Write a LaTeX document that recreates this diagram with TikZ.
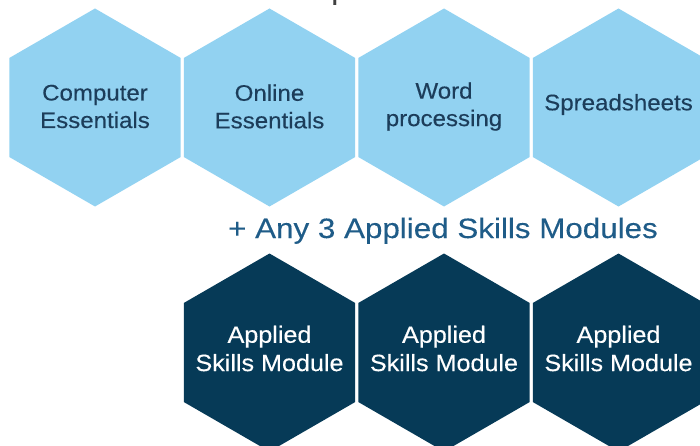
\documentclass[tikz,border=0pt]{standalone}
\usepackage{fontspec}
\setmainfont{Liberation Sans}
\newfontfamily\hexfont[FakeStretch=1.07,FakeBold=0.3]{Liberation Sans}
\newfontfamily\headfont[FakeStretch=1.12,FakeBold=0.2]{Liberation Sans}
\usetikzlibrary{shapes.geometric}
\definecolor{lightblue}{RGB}{146,210,241}
\definecolor{navyhex}{RGB}{6,58,87}
\definecolor{navytext}{RGB}{28,61,90}
\definecolor{headblue}{RGB}{31,92,136}
\tikzset{
  hexbase/.style={regular polygon, regular polygon sides=6, shape border rotate=30,
    minimum size=198pt, inner sep=0pt, outer sep=0pt, draw=none},
  lhex/.style={hexbase, fill=lightblue},
  dhex/.style={hexbase, fill=navyhex},
  toptext/.style={font=\hexfont\fontsize{22.5pt}{27.5pt}\selectfont, text=navytext, align=center, inner sep=0pt},
  bottext/.style={font=\hexfont\fontsize{23.5pt}{28.3pt}\selectfont, text=white, align=center, inner sep=0pt},
  headtext/.style={font=\headfont\fontsize{28pt}{32pt}\selectfont, text=headblue, inner sep=0pt}
}
\begin{document}
\begin{tikzpicture}[x=1pt,y=-1pt]
\clip (0,0) rectangle (700,446);
\useasboundingbox (0,0) rectangle (700,446);
% top row
\node[lhex] (h1) at (95,107.5) {};
\node[lhex] (h2) at (269.5,107.5) {};
\node[lhex] (h3) at (444,107.5) {};
\node[lhex] (h4) at (618.5,107.5) {};
\node[toptext] (t1) at ([yshift=1pt]h1) {Computer\\Essentials};
\node[toptext] (t2) at ([yshift=1pt]h2) {Online\\Essentials};
\node[toptext] (t3) at ([yshift=1pt]h3) {Word\\processing};
\node[toptext] (t4) at ([yshift=3pt]h4) {Spreadsheets};
% heading fragment at top
\node[headtext, text=black!75, anchor=base west] (frag) at (331,-1) {p};
% heading
\node[headtext, anchor=base] (head) at (443,238) {+ Any 3 Applied Skills Modules};
% bottom row
\node[dhex] (b1) at (269.5,352.5) {};
\node[dhex] (b2) at (444,352.5) {};
\node[dhex] (b3) at (618.5,352.5) {};
\node[bottext] (s1) at ([yshift=4pt]b1) {Applied\\Skills Module};
\node[bottext] (s2) at ([yshift=4pt]b2) {Applied\\Skills Module};
\node[bottext] (s3) at ([yshift=4pt]b3) {Applied\\Skills Module};
\end{tikzpicture}
\end{document}
